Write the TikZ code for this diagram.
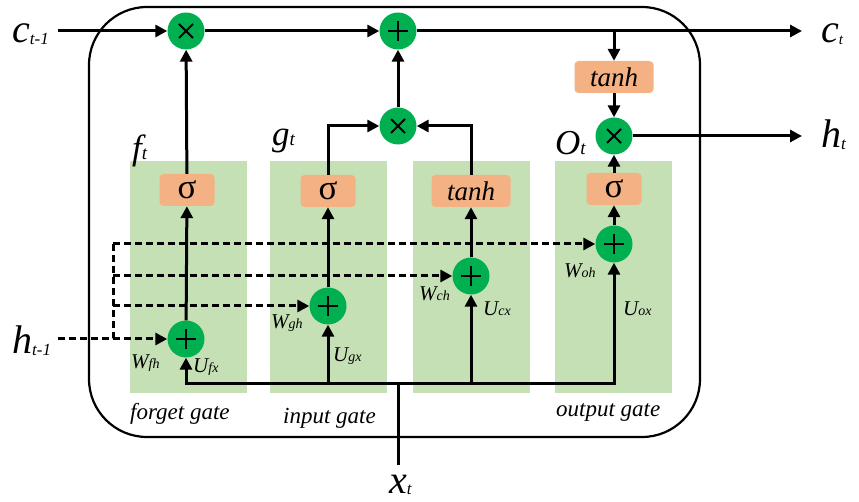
\documentclass[tikz,border=0pt]{standalone}
\usepackage{fontspec}
\setmainfont{Liberation Serif}
\usetikzlibrary{arrows.meta}
\definecolor{opgreen}{HTML}{00B050}
\definecolor{panelgreen}{HTML}{C5E0B4}
\definecolor{boxorange}{HTML}{F4B183}
\newcommand\lab[4]{{\fontsize{#1}{#1}\selectfont\itshape #2}{\fontsize{#3}{#3}\selectfont\itshape #4}}
\tikzset{
  ln/.style={line width=3pt},
  arr/.style={ln,-{Triangle[length=12pt,width=12pt]}},
  dsh/.style={line width=3pt,dash pattern=on 7pt off 4pt},
  darr/.style={dsh,-{Triangle[length=12pt,width=12pt]}},
  op/.style={circle,fill=opgreen,minimum size=37pt,inner sep=0pt},
  plusop/.style={op,path picture={
    \draw[line width=2pt] ([xshift=-10pt]path picture bounding box.center) -- ([xshift=10pt]path picture bounding box.center);
    \draw[line width=2pt] ([yshift=-10pt]path picture bounding box.center) -- ([yshift=10pt]path picture bounding box.center);}},
  timesop/.style={op,path picture={
    \draw[line width=2pt] ([shift={(-7pt,-7pt)}]path picture bounding box.center) -- ([shift={(7pt,7pt)}]path picture bounding box.center);
    \draw[line width=2pt] ([shift={(-7pt,7pt)}]path picture bounding box.center) -- ([shift={(7pt,-7pt)}]path picture bounding box.center);}},
  actbox/.style={rectangle,rounded corners=4pt,fill=boxorange,inner sep=0pt,minimum height=32pt},
  sigbox/.style={actbox,minimum width=55pt,font=\fontsize{35}{35}\selectfont},
  tanhbox/.style={actbox,minimum width=79pt,font=\fontsize{27}{27}\selectfont\itshape},
  panel/.style={fill=panelgreen,draw=none},
  lbl/.style={inner sep=0pt,anchor=base west},
  gatelbl/.style={inner sep=0pt,anchor=base west,font=\fontsize{23}{23}\selectfont\itshape},
}
\begin{document}
\begin{tikzpicture}[x=1pt,y=-1pt]
\useasboundingbox (0,0) rectangle (859,502);
% panels
\fill[panel] (130,161) rectangle (247,393);
\fill[panel] (270,161) rectangle (387,393);
\fill[panel] (413,161) rectangle (530,393);
\fill[panel] (555,161) rectangle (672,393);
% outer cell
\draw[line width=2.2pt,rounded corners=58pt] (89,7) rectangle (700,437);
% operator nodes
\node[timesop] (m1) at (186,31) {};
\node[plusop] (p1) at (398,31) {};
\node[timesop] (m2) at (398,126) {};
\node[tanhbox] (tanhO) at (614,77) {tanh};
\node[timesop] (m3) at (614,136) {};
\node[sigbox] (sigF) at (187,190) {σ};
\node[sigbox] (sigI) at (328,191) {σ};
\node[tanhbox] (tanhC) at (471,191) {tanh};
\node[sigbox] (sigO) at (614,189) {σ};
\node[plusop] (pF) at (186,339) {};
\node[plusop] (pI) at (328,306) {};
\node[plusop] (pC) at (471,276) {};
\node[plusop] (pO) at (614,244) {};
% coordinates
\coordinate (cin) at (58,31);
\coordinate (cout) at (802,31);
\coordinate (csplit) at (614,31);
\coordinate (hout) at (802,136);
\coordinate (xin) at (398,465);
\coordinate (xj) at (398,383);
\coordinate (xb2) at (328,383);
\coordinate (xb3) at (471,383);
\coordinate (hin) at (58,339);
\coordinate (hj) at (113,339);
\coordinate (dh1) at (113,306);
\coordinate (dh2) at (113,276);
\coordinate (dh3) at (113,244);
% cell state line
\draw[arr] (cin) -- (m1);
\draw[arr] (m1) -- (p1);
\draw[arr] (p1) -- (cout);
\draw[arr] (csplit) -- (tanhO);
\draw[arr] (tanhO) -- (m3);
\draw[arr] (m3) -- (hout);
% gates up
\draw[arr] (m2) -- (p1);
\draw[arr] (sigI.north) |- (m2.west);
\draw[arr] (tanhC.north) |- (m2.east);
\draw[arr] (sigF) -- (m1);
\draw[arr] (sigO) -- (m3);
\draw[arr] (pF) -- (sigF);
\draw[arr] (pI) -- (sigI);
\draw[arr] (pC) -- (tanhC);
\draw[arr] (pO) -- (sigO);
% input x
\draw[ln] (xin) -- (xj);
\draw[arr] (xj) -| (pF);
\draw[arr] (xj) -| (pO);
\draw[arr] (xb2) -- (pI);
\draw[arr] (xb3) -- (pC);
% h_{t-1} dashed
\draw[dsh] (hin) -- (hj) -- (dh3);
\draw[darr] (hj) -- (pF);
\draw[darr] (dh1) -- (pI);
\draw[darr] (dh2) -- (pC);
\draw[darr] (dh3) -- (pO);
% outer labels
\node[lbl] (lcin) at (12,43) {\lab{40}{c}{17}{\raisebox{-2pt}{t-1}}};
\node[lbl] (lhin) at (12,353) {\lab{40}{h}{17}{\raisebox{-2pt}{t-1}}};
\node[lbl] (lcout) at (821,43) {\lab{40}{c}{15}{\raisebox{-2pt}{t}}};
\node[lbl] (lhout) at (821,148) {\lab{40}{h}{17}{\raisebox{-2pt}{t}}};
\node[lbl] (lxin) at (389,493) {\lab{40}{x}{17}{\raisebox{-1pt}{t}}};
% gate output labels
\node[lbl] (lf) at (132,160) {\lab{35}{f}{19}{t}};
\node[lbl] (lg) at (272,146) {\lab{35}{g}{19}{t}};
\node[lbl] (lo) at (555,155) {\lab{35}{O}{19}{t}};
% weight labels
\node[lbl] (wfh) at (131,368) {\lab{21}{W}{14}{fh}};
\node[lbl] (ufx) at (193,373) {\lab{21}{U}{14}{fx}};
\node[lbl] (wgh) at (271,329) {\lab{21}{W}{14}{gh}};
\node[lbl] (ugx) at (333,361) {\lab{21}{U}{14}{gx}};
\node[lbl] (wch) at (419,301) {\lab{21}{W}{14}{ch}};
\node[lbl] (ucx) at (483,316) {\lab{21}{U}{14}{cx}};
\node[lbl] (woh) at (564,278) {\lab{21}{W}{14}{oh}};
\node[lbl] (uox) at (623,316) {\lab{21}{U}{14}{ox}};
% gate names
\node[gatelbl] (gf) at (130,419) {forget gate};
\node[gatelbl] (gi) at (283,423) {input gate};
\node[gatelbl] (go) at (556,416) {output gate};
\end{tikzpicture}
\end{document}
